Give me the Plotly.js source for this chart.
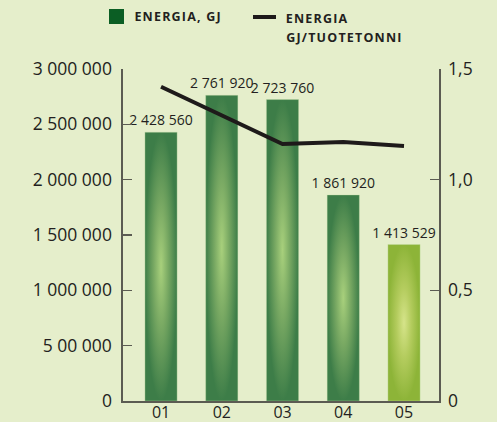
<!DOCTYPE html>
<html>
<head>
<meta charset="utf-8">
<script src="https://cdn.plot.ly/plotly-3.0.1.min.js"></script>
<style>
html,body{margin:0;padding:0;background:#e5eecb;}
#chart{width:497px;height:422px;}
</style>
</head>
<body>
<div id="chart"></div>
<script>
// ---- data ----
const categories = ["01", "02", "03", "04", "05"];
const energyGJ = [2428560, 2761920, 2723760, 1861920, 1413529];
const energyLabels = ["2 428 560", "2 761 920", "2 723 760", "1 861 920", "1 413 529"];
const energyPerTonne = [1.42, 1.29, 1.161, 1.17, 1.152];
const leftTickVals = [0, 500000, 1000000, 1500000, 2000000, 2500000, 3000000];
const leftTickText = ["0", "5 00 000", "1 000 000", "1 500 000", "2 000 000", "2 500 000", "3 000 000"];
const rightTickVals = [0, 0.5, 1.0, 1.5];
const rightTickText = ["0", "0,5", "1,0", "1,5"];
const legendBar = "ENERGIA, GJ";
const legendLine1 = "ENERGIA";
const legendLine2 = "GJ/TUOTETONNI";

// ---- layout helpers ----
const W = 497, H = 422;
const M = {l: 123, r: 58, t: 69, b: 21};
const pw = W - M.l - M.r, ph = H - M.t - M.b;
const px = x => (x - M.l) / pw;
const py = y => (H - M.b - y) / ph;
const LS = 1.2; // legend letter spacing (px)

const xIdx = categories.map((c, i) => i);
const FONT = "Open Sans, DejaVu Sans, sans-serif";
const TXT = "#231f20";
const AX = "#5b5b52";

const traces = [
  {
    type: "bar",
    x: xIdx,
    y: energyGJ,
    width: 0.53,
    marker: {color: ["#3d7d48", "#3d7d48", "#3d7d48", "#3d7d48", "#8db438"],
             line: {color: "rgba(200,225,170,0.6)", width: 0.6}},
    text: energyLabels,
    textposition: "outside",
    constraintext: "none",
    textfont: {family: FONT, size: 14, color: TXT},
    cliponaxis: false,
    hoverinfo: "none",
    showlegend: false
  },
  {
    type: "scatter",
    mode: "lines",
    x: xIdx,
    y: energyPerTonne,
    yaxis: "y2",
    line: {color: "#1e1a1a", width: 4},
    hoverinfo: "none",
    showlegend: false
  }
];

const legendFont = {family: FONT, size: 12.5, color: TXT};
const layout = {
  width: W, height: H,
  margin: M,
  paper_bgcolor: "#e5eecb",
  plot_bgcolor: "#e5eecb",
  font: {family: FONT, color: TXT},
  showlegend: false,
  xaxis: {
    range: [-0.626, 4.576],
    tickvals: xIdx,
    ticktext: categories,
    ticks: "",
    showline: true, linecolor: AX, linewidth: 1.6,
    showgrid: false, zeroline: false,
    tickfont: {family: FONT, size: 16, color: TXT},
    ticklabelstandoff: -4,
    fixedrange: true
  },
  yaxis: {
    range: [0, 3000000],
    tickvals: leftTickVals,
    ticktext: leftTickText,
    ticks: "inside", ticklen: 9, tickcolor: AX, tickwidth: 1.4,
    showline: true, linecolor: AX, linewidth: 1.6,
    showgrid: false, zeroline: false,
    tickfont: {family: FONT, size: 17.5, color: TXT},
    ticklabelstandoff: 6,
    fixedrange: true
  },
  yaxis2: {
    overlaying: "y", side: "right",
    range: [0, 1.5],
    tickvals: rightTickVals,
    ticktext: rightTickText,
    ticks: "inside", ticklen: 9, tickcolor: AX, tickwidth: 1.4,
    showline: true, linecolor: AX, linewidth: 1.6,
    showgrid: false, zeroline: false,
    tickfont: {family: FONT, size: 17.5, color: TXT},
    ticklabelstandoff: 4,
    fixedrange: true
  },
  shapes: [
    {type: "rect", xref: "paper", yref: "paper",
     x0: px(109), x1: px(124), y0: py(24), y1: py(9),
     fillcolor: "#0b5e24", line: {width: 0}},
    {type: "line", xref: "paper", yref: "paper",
     x0: px(253), x1: px(276), y0: py(17), y1: py(17),
     line: {color: "#1e1a1a", width: 4}}
  ],
  annotations: [
    {xref: "paper", yref: "paper", x: px(132 + LS * legendBar.length / 2), y: py(16), xanchor: "left", yanchor: "middle",
     text: "<b>" + legendBar + "</b>", showarrow: false, font: legendFont},
    {xref: "paper", yref: "paper", x: px(284 + LS * legendLine1.length / 2), y: py(19), xanchor: "left", yanchor: "middle",
     text: "<b>" + legendLine1 + "</b>", showarrow: false, font: legendFont},
    {xref: "paper", yref: "paper", x: px(284 + LS * legendLine2.length / 2), y: py(37.5), xanchor: "left", yanchor: "middle",
     text: "<b>" + legendLine2 + "</b>", showarrow: false, font: legendFont}
  ]
};

Plotly.newPlot("chart", traces, layout, {displayModeBar: false, staticPlot: true}).then(gd => {
  const svg = gd.querySelector("svg.main-svg");
  const NS = "http://www.w3.org/2000/svg";
  let defs = svg.querySelector("defs");
  if (!defs) { defs = document.createElementNS(NS, "defs"); svg.insertBefore(defs, svg.firstChild); }
  function grad(id, stops) {
    const g = document.createElementNS(NS, "radialGradient");
    g.setAttribute("id", id);
    g.setAttribute("cx", "0.5"); g.setAttribute("cy", "0.5"); g.setAttribute("r", "0.5");
    stops.forEach(([o, c]) => {
      const s = document.createElementNS(NS, "stop");
      s.setAttribute("offset", o); s.setAttribute("stop-color", c);
      g.appendChild(s);
    });
    defs.appendChild(g);
  }
  grad("gGreen", [["0", "#a8d07c"], ["0.45", "#79a963"], ["1", "#3d7d48"]]);
  grad("gLime", [["0", "#d6e48a"], ["0.45", "#b4cc5e"], ["1", "#8db438"]]);
  gd.querySelectorAll(".barlayer .point path").forEach((p, i) => {
    p.style.fill = i === 4 ? "url(#gLime)" : "url(#gGreen)";
  });
  gd.querySelectorAll(".annotation-text").forEach(t => {
    t.setAttribute("letter-spacing", LS + "px");
  });
});
</script>
</body>
</html>
